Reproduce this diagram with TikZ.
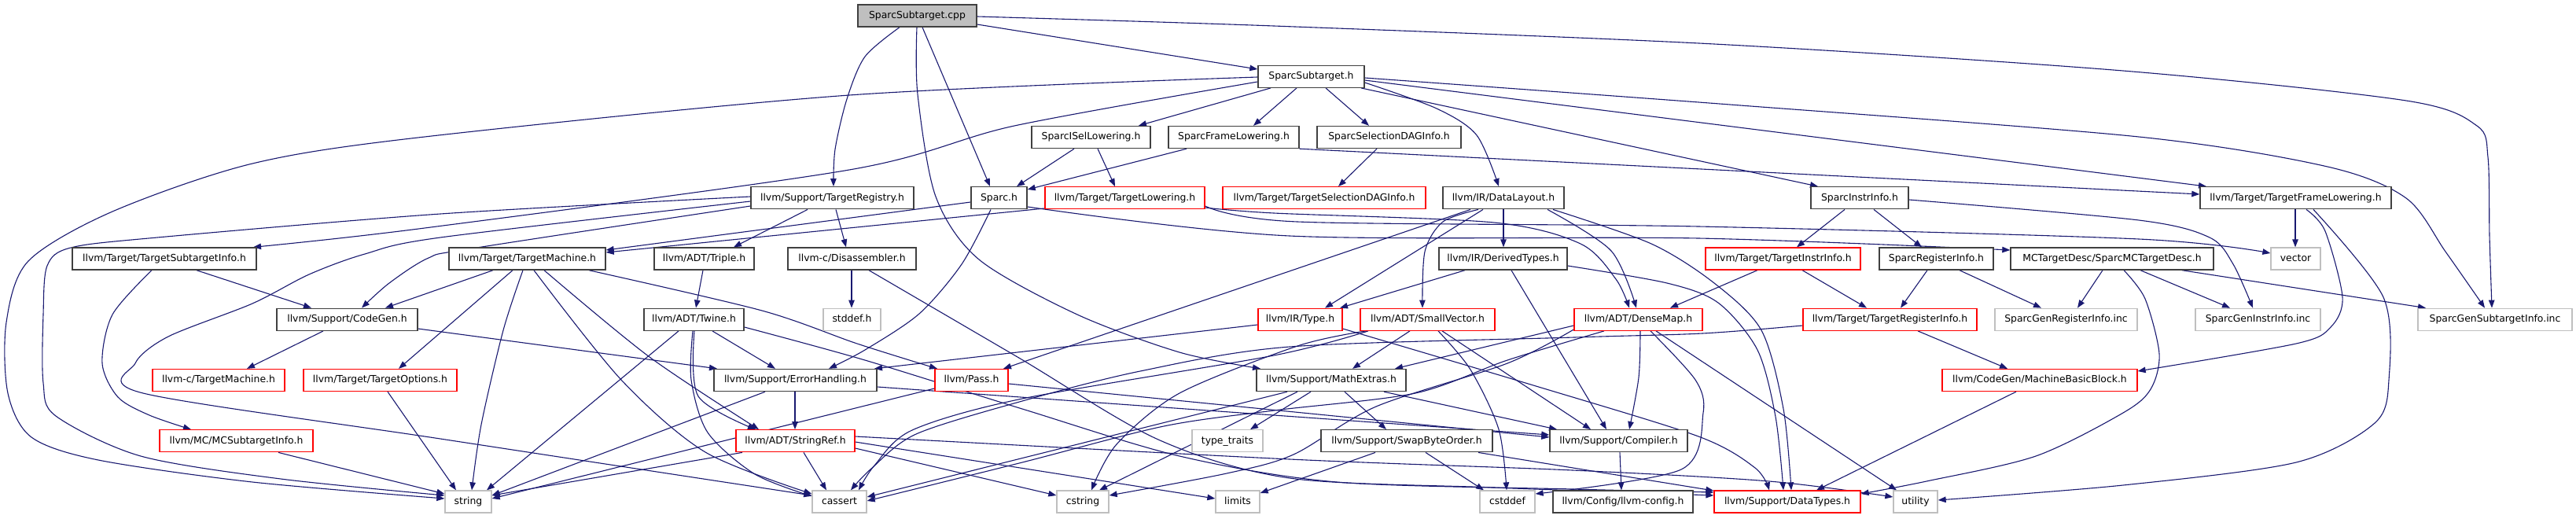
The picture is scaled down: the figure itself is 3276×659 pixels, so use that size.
\documentclass[tikz,border=0pt]{standalone}
\usepackage{fontspec}
\setmainfont{DejaVu Sans}
\usetikzlibrary{arrows.meta}
\definecolor{edgec}{HTML}{191970}
\definecolor{boxk}{HTML}{404040}
\definecolor{boxr}{HTML}{FF0000}
\definecolor{boxg}{HTML}{BFBFBF}
\pgfdeclarelayer{edges}
\pgfsetlayers{edges,main}
\tikzset{
 nb/.style={draw=boxk, line width=1.4pt, fill=white, minimum height=28pt, inner sep=0pt,
   text height=9pt, text depth=2.5pt, font=\fontsize{12.4pt}{14pt}\selectfont},
 nr/.style={nb, draw=boxr, line width=1.3pt},
 ng/.style={nb, draw=boxg, line width=1.3pt},
 ncur/.style={nb, fill=boxg},
 edg/.style={draw=edgec, line width=1.1pt, -{Triangle[length=10pt,width=7.5pt]}},
}
\begin{document}
\begin{tikzpicture}[x=1pt,y=-1pt]
\useasboundingbox (0,0) rectangle (3276,659);
% row 0
\node[ncur,minimum width=151pt] (cpp) at (1166.5,20) {SparcSubtarget.cpp};
% row 1
\node[nb,minimum width=135pt] (ssh) at (1667.5,97.25) {SparcSubtarget.h};
% row 2
\node[nb,minimum width=151pt] (isel) at (1387.5,174.5) {SparcISelLowering.h};
\node[nb,minimum width=166pt] (sfl) at (1569,174.5) {SparcFrameLowering.h};
\node[nb,minimum width=183pt] (ssdag) at (1766.5,174.5) {SparcSelectionDAGInfo.h};
% row 3
\node[nb,minimum width=207pt] (treg) at (1058.5,251.75) {llvm/Support/TargetRegistry.h};
\node[nb,minimum width=71pt] (sparch) at (1270.5,251.75) {Sparc.h};
\node[nr,minimum width=203pt] (tlow) at (1430.5,251.75) {llvm/Target/TargetLowering.h};
\node[nr,minimum width=258pt] (tsdag) at (1684,251.75) {llvm/Target/TargetSelectionDAGInfo.h};
\node[nb,minimum width=154pt] (dl) at (1912,251.75) {llvm/IR/DataLayout.h};
\node[nb,minimum width=124pt] (sii) at (2365,251.75) {SparcInstrInfo.h};
\node[nb,minimum width=243pt] (tfl) at (2919.5,251.75) {llvm/Target/TargetFrameLowering.h};
% row 4
\node[nb,minimum width=234pt] (tsi) at (209,329) {llvm/Target/TargetSubtargetInfo.h};
\node[nb,minimum width=199pt] (tm) at (670.5,329) {llvm/Target/TargetMachine.h};
\node[nb,minimum width=127pt] (triple) at (895.5,329) {llvm/ADT/Triple.h};
\node[nb,minimum width=163pt] (disasm) at (1083.5,329) {llvm-c/Disassembler.h};
\node[nb,minimum width=163pt] (dt) at (1911.5,329) {llvm/IR/DerivedTypes.h};
\node[nr,minimum width=197pt] (tii) at (2267.5,329) {llvm/Target/TargetInstrInfo.h};
\node[nb,minimum width=145pt] (sri) at (2462.5,329) {SparcRegisterInfo.h};
\node[nb,minimum width=258pt] (mctd) at (2686,329) {MCTargetDesc/SparcMCTargetDesc.h};
\node[ng,minimum width=63pt] (vector) at (2919.5,329) {vector};
% row 5
\node[nb,minimum width=179pt] (codegen) at (441.5,406.25) {llvm/Support/CodeGen.h};
\node[nb,minimum width=127pt] (twine) at (882.5,406.25) {llvm/ADT/Twine.h};
\node[ng,minimum width=73pt] (stddef) at (1083.5,406.25) {stddef.h};
\node[nr,minimum width=107pt] (type) at (1653.5,406.25) {llvm/IR/Type.h};
\node[nr,minimum width=171pt] (svec) at (1815.5,406.25) {llvm/ADT/SmallVector.h};
\node[nr,minimum width=163pt] (dmap) at (2083.5,406.25) {llvm/ADT/DenseMap.h};
\node[nr,minimum width=221pt] (tri) at (2403.5,406.25) {llvm/Target/TargetRegisterInfo.h};
\node[ng,minimum width=181pt] (sgri) at (2627.5,406.25) {SparcGenRegisterInfo.inc};
\node[ng,minimum width=159pt] (sgii) at (2871.5,406.25) {SparcGenInstrInfo.inc};
\node[ng,minimum width=196pt] (sgsub) at (3173,406.25) {SparcGenSubtargetInfo.inc};
% row 6
\node[nr,minimum width=168pt] (ctm) at (278,483.5) {llvm-c/TargetMachine.h};
\node[nr,minimum width=195pt] (topt) at (483.5,483.5) {llvm/Target/TargetOptions.h};
\node[nb,minimum width=207pt] (eh) at (1011.5,483.5) {llvm/Support/ErrorHandling.h};
\node[nr,minimum width=93pt] (pass) at (1235.5,483.5) {llvm/Pass.h};
\node[nb,minimum width=190pt] (mathx) at (1693,483.5) {llvm/Support/MathExtras.h};
\node[nr,minimum width=248pt] (mbb) at (2594,483.5) {llvm/CodeGen/MachineBasicBlock.h};
% row 7
\node[nr,minimum width=195pt] (mcsti) at (300.5,560.75) {llvm/MC/MCSubtargetInfo.h};
\node[nr,minimum width=151pt] (sref) at (1011.5,560.75) {llvm/ADT/StringRef.h};
\node[ng,minimum width=90pt] (tt) at (1561,560.75) {type\_traits};
\node[nb,minimum width=218pt] (sbo) at (1789,560.75) {llvm/Support/SwapByteOrder.h};
\node[nb,minimum width=175pt] (compiler) at (2058.5,560.75) {llvm/Support/Compiler.h};
% row 8
\node[ng,minimum width=59pt] (string) at (595.5,638) {string};
\node[ng,minimum width=69pt] (cassert) at (1067.5,638) {cassert};
\node[ng,minimum width=66pt] (cstring) at (1377,638) {cstring};
\node[ng,minimum width=56pt] (limits) at (1574,638) {limits};
\node[ng,minimum width=70pt] (cstddef) at (1917,638) {cstddef};
\node[nb,minimum width=178pt] (llvmcfg) at (2064,638) {llvm/Config/llvm-config.h};
\node[nr,minimum width=186pt] (datatypes) at (2273,638) {llvm/Support/DataTypes.h};
\node[ng,minimum width=56pt] (utility) at (2436,638) {utility};

\begin{pgfonlayer}{edges}
% from SparcSubtarget.cpp
\draw[edg] (cpp.east |- 0,31) -- (ssh.west |- 0,88);
\draw[edg] plot[smooth] coordinates {(cpp.east |- 0,21) (1620,33) (2180,56) (2700,90) (3060,128) (3150,160) (3164,200) (3166,300) (sgsub.north -| 3169,0)};
\draw[edg] plot[smooth] coordinates {(cpp.south -| 1144,0) (1100,72) (1077,126) (1062,190) (treg.north -| 1060,0)};
\draw[edg] (cpp.south -| 1173,0) -- (sparch.north -| 1259,0);
\draw[edg] plot[smooth] coordinates {(cpp.south -| 1166,0) (1167,120) (1190,250) (1245,330) (1370,400) (1500,448) (mathx.north -| 1603,0)};
% from SparcSubtarget.h
\draw[edg] (ssh.south -| 1616,0) -- (isel.north -| 1448,0);
\draw[edg] (ssh.south -| 1649,0) -- (sfl.north -| 1594,0);
\draw[edg] (ssh.south -| 1686,0) -- (ssdag.north -| 1741,0);
\draw[edg] plot[smooth] coordinates {(ssh.east |- 0,105) (1827,138) (1878,172) (dl.north -| 1906,0)};
\draw[edg] (ssh.south -| 1731,0) -- (sii.north -| 2312,0);
\draw[edg] (ssh.east |- 0,102) -- (tfl.north -| 2806,0);
\draw[edg] plot[smooth] coordinates {(ssh.east |- 0,99) (2200,133) (2720,174) (2960,212) (3060,252) (3110,320) (sgsub.north -| 3160,0)};
\draw[edg] plot[smooth] coordinates {(ssh.west |- 0,104) (1290,160) (1080,216) (540,290) (tsi.north -| 322,0)};
\draw[edg] plot[smooth] coordinates {(ssh.west |- 0,98) (1080,121) (540,174) (321,208) (143,269) (36,332) (8,410) (10,500) (40,556) (125,585) (321,613) (string.west |- 0,634)};
% from TargetRegistry.h
\draw[edg] plot[smooth] coordinates {(treg.west |- 0,250) (560,272) (200,302) (90,315) (60,338) (55,400) (55,487) (71,529) (179,580) (357,609) (string.west |- 0,630)};
\draw[edg] plot[smooth] coordinates {(treg.west |- 0,256) (560,302) (464,323) (393,349) (321,386) (214,428) (172,462) (182,500) (560,558) (cassert.west |- 0,630)};
\draw[edg] plot[smooth] coordinates {(treg.west |- 0,262) (600,316) (545,328) (495,360) (codegen.north -| 460,0)};
\draw[edg] (treg.south -| 1027,0) -- (triple.north -| 933,0);
\draw[edg] (treg.south -| 1063,0) -- (disasm.north -| 1076,0);
% from Sparc.h
\draw[edg] (sparch.west |- 0,257) -- (tm.east |- 0,318);
\draw[edg] plot[smooth] coordinates {(sparch.south -| 1260,0) (1223,336) (1169,399) (1100,445) (eh.north -| 1054,0)};
\draw[edg] plot[smooth] coordinates {(sparch.east |- 0,263) (1640,300) (2160,303) (mctd.west |- 0,318)};
% from SparcISelLowering.h / SparcFrameLowering.h / SparcSelectionDAGInfo.h
\draw[edg] (isel.south -| 1366,0) -- (sparch.north -| 1293,0);
\draw[edg] (isel.south -| 1396,0) -- (tlow.north -| 1418,0);
\draw[edg] (sfl.south -| 1509,0) -- (sparch.east |- 0,241);
\draw[edg] (sfl.south east) -- (tfl.west |- 0,247);
\draw[edg] (ssdag.south -| 1751,0) -- (tsdag.north -| 1702,0);
% from TargetLowering.h
\draw[edg] (tlow.west |- 0,265) -- (tm.east |- 0,321);
\draw[edg] plot[smooth] coordinates {(tlow.east |- 0,264) (1620,271) (1900,283) (2010,310) (2055,355) (dmap.north -| 2072,0)};
\draw[edg] plot[smooth] coordinates {(tlow.east |- 0,262) (1650,282) (2160,288) (2720,304) (vector.west |- 0,322)};
% from TargetSubtargetInfo.h
\draw[edg] (tsi.south -| 250,0) -- (codegen.north -| 396,0);
\draw[edg] plot[smooth] coordinates {(tsi.south -| 193,0) (143,400) (130,462) (150,505) (190,528) (mcsti.north -| 243,0)};
\draw[edg] (mcsti.south -| 354,0) -- (string.west |- 0,628);
% from CodeGen.h
\draw[edg] (codegen.south -| 411,0) -- (ctm.north -| 314,0);
\draw[edg] (codegen.east |- 0,418) -- (eh.north -| 912,0);
% from TargetMachine.h
\draw[edg] (tm.south -| 627,0) -- (codegen.north -| 490,0);
\draw[edg] (tm.south -| 652,0) -- (topt.north -| 507,0);
\draw[edg] plot[smooth] coordinates {(tm.south -| 665,0) (640,420) (612,540) (string.north -| 600,0)};
\draw[edg] plot[smooth] coordinates {(tm.south -| 679,0) (790,483) (897,575) (cassert.west |- 0,628)};
\draw[edg] plot[smooth] coordinates {(tm.south -| 692,0) (826,454) (sref.north -| 965,0)};
\draw[edg] plot[smooth] coordinates {(tm.south -| 749,0) (969,395) (1090,437) (pass.north -| 1192,0)};
\draw[edg] (topt.south -| 493,0) -- (string.north -| 580,0);
% Triple, Disassembler, Twine
\draw[edg] (triple.south -| 894,0) -- (twine.north -| 885,0);
\draw[edg] (disasm.south -| 1083,0) -- (stddef.north -| 1083,0);
\draw[edg] plot[smooth] coordinates {(disasm.south -| 1105,0) (1294,454) (1473,559) (1640,608) (1900,620) (datatypes.west |- 0,630)};
\draw[edg] (twine.south -| 863,0) -- (string.north -| 619,0);
\draw[edg] plot[smooth] coordinates {(twine.south -| 881,0) (879,483) (900,550) (960,603) (cassert.west |- 0,631)};
\draw[edg] plot[smooth] coordinates {(twine.south -| 883,0) (888,504) (sref.north -| 961,0)};
\draw[edg] (twine.south -| 906,0) -- (eh.north -| 986,0);
\draw[edg] plot[smooth] coordinates {(twine.east |- 0,416) (1100,458) (1300,520) (1500,580) (1700,613) (2000,622) (datatypes.west |- 0,626)};
% ErrorHandling, Pass
\draw[edg] (eh.south -| 1011,0) -- (sref.north -| 1011,0);
\draw[edg] (eh.south -| 973,0) -- (string.east |- 0,630);
\draw[edg] (eh.east |- 0,492) -- (compiler.west |- 0,553);
\draw[edg] (pass.east |- 0,488) -- (compiler.west |- 0,556);
\draw[edg] (pass.west |- 0,494) -- (string.east |- 0,634);
% DataLayout, DerivedTypes, Type
\draw[edg] (dl.south -| 1912,0) -- (dt.north -| 1912,0);
\draw[edg] plot[smooth] coordinates {(dl.south -| 1880,0) (1835,282) (1812,320) (svec.north -| 1809,0)};
\draw[edg] (dl.south -| 1886,0) -- (type.north -| 1685,0);
\draw[edg] (dl.south -| 1870,0) -- (pass.north -| 1276,0);
\draw[edg] plot[smooth] coordinates {(dl.south -| 1968,0) (2049,319) (dmap.north -| 2081,0)};
\draw[edg] plot[smooth] coordinates {(dl.south -| 1975,0) (2100,310) (2180,360) (2240,420) (2268,520) (datatypes.north -| 2278,0)};
\draw[edg] (dt.south -| 1863,0) -- (type.north -| 1704,0);
\draw[edg] (dt.south -| 1922,0) -- (compiler.north -| 2043,0);
\draw[edg] plot[smooth] coordinates {(dt.east |- 0,338) (2120,360) (2185,385) (2235,445) (2258,530) (datatypes.north -| 2268,0)};
\draw[edg] (type.west |- 0,413) -- (eh.north -| 1112,0);
\draw[edg] plot[smooth] coordinates {(type.east |- 0,418) (1950,490) (2160,555) (2232,595) (datatypes.north -| 2250,0)};
% MathExtras
\draw[edg] (mathx.south -| 1667,0) -- (tt.north -| 1590,0);
\draw[edg] (mathx.south -| 1710,0) -- (sbo.north -| 1763,0);
\draw[edg] (mathx.south -| 1760,0) -- (compiler.north -| 1980,0);
\draw[edg] (mathx.south -| 1637,0) -- (cassert.east |- 0,632);
\draw[edg] (mathx.south -| 1650,0) -- (cstring.north -| 1398,0);
% SmallVector
\draw[edg] (svec.south -| 1793,0) -- (mathx.north -| 1720,0);
\draw[edg] (svec.south -| 1834,0) -- (compiler.north -| 2023,0);
\draw[edg] plot[smooth] coordinates {(svec.south -| 1829,0) (1870,470) (1906,546) (cstddef.north -| 1916,0)};
\draw[edg] plot[smooth] coordinates {(svec.south -| 1740,0) (1620,452) (1300,507) (1160,547) (1112,592) (cassert.north -| 1092,0)};
\draw[edg] plot[smooth] coordinates {(svec.south -| 1737,0) (1650,440) (1500,500) (1420,565) (cstring.north -| 1388,0)};
% DenseMap
\draw[edg] plot[smooth] coordinates {(dmap.south -| 2086,0) (2084,480) (compiler.north -| 2072,0)};
\draw[edg] (dmap.west |- 0,414) -- (mathx.north -| 1774,0);
\draw[edg] plot[smooth] coordinates {(dmap.south -| 2099,0) (2156,483) (2166,525) (2138,597) (cstddef.east |- 0,628)};
\draw[edg] (dmap.south -| 2106,0) -- (utility.north -| 2412,0);
\draw[edg] plot[smooth] coordinates {(dmap.south -| 2040,0) (1917,458) (1800,500) (1620,522) (1480,542) (1300,588) (cassert.east |- 0,637)};
\draw[edg] plot[smooth] coordinates {(dmap.west |- 0,419) (1917,462) (1750,517) (1645,578) (1560,602) (cstring.east |- 0,630)};
% TargetRegisterInfo
\draw[edg] (tri.south -| 2439,0) -- (mbb.north -| 2553,0);
\draw[edg] plot[smooth] coordinates {(tri.west |- 0,414) (2165,424) (2002,429) (1640,441) (1450,472) (1300,510) (1165,552) (1108,596) (cassert.north -| 1082,0)};
% SparcInstrInfo, TargetInstrInfo, SparcRegisterInfo
\draw[edg] (sii.south -| 2346,0) -- (tii.north -| 2285,0);
\draw[edg] (sii.south -| 2383,0) -- (sri.north -| 2444,0);
\draw[edg] plot[smooth] coordinates {(sii.east |- 0,254) (2720,280) (2810,302) (2840,336) (sgii.north -| 2865,0)};
\draw[edg] (tii.south -| 2292,0) -- (tri.north -| 2374,0);
\draw[edg] (tii.south -| 2235,0) -- (dmap.north -| 2124,0);
\draw[edg] (sri.south -| 2451,0) -- (tri.north -| 2417,0);
\draw[edg] (sri.south -| 2492,0) -- (sgri.north -| 2596,0);
% SparcMCTargetDesc
\draw[edg] (mctd.south -| 2674,0) -- (sgri.north -| 2642,0);
\draw[edg] (mctd.south -| 2722,0) -- (sgii.north -| 2836,0);
\draw[edg] (mctd.south -| 2775,0) -- (sgsub.north -| 3085,0);
\draw[edg] plot[smooth] coordinates {(mctd.south -| 2701,0) (2728,380) (2746,450) (2735,495) (2700,525) (2589,580) (2450,612) (datatypes.east |- 0,628)};
% TargetFrameLowering
\draw[edg] (tfl.south -| 2919,0) -- (vector.north -| 2919,0);
\draw[edg] plot[smooth] coordinates {(tfl.south -| 2933,0) (2957,294) (2979,378) (2964,416) (2920,437) (mbb.east |- 0,472)};
\draw[edg] plot[smooth] coordinates {(tfl.south -| 2942,0) (3031,378) (3038,483) (3020,538) (2920,588) (2700,617) (utility.east |- 0,636)};
\draw[edg] (mbb.south -| 2564,0) -- (datatypes.north -| 2310,0);
% SwapByteOrder, Compiler
\draw[edg] (sbo.south -| 1813,0) -- (cstddef.north -| 1887,0);
\draw[edg] (sbo.south -| 1749,0) -- (limits.east |- 0,627);
\draw[edg] (sbo.south -| 1880,0) -- (datatypes.west |- 0,624);
\draw[edg] (compiler.south -| 2060,0) -- (llvmcfg.north -| 2062,0);
% StringRef
\draw[edg] (sref.south -| 944,0) -- (string.east |- 0,630);
\draw[edg] (sref.south -| 1022,0) -- (cassert.north -| 1051,0);
\draw[edg] (sref.east |- 0,570) -- (cstring.west |- 0,630);
\draw[edg] (sref.east |- 0,562) -- (limits.west |- 0,634);
\draw[edg] plot[smooth] coordinates {(sref.east |- 0,555) (1640,584) (2000,598) (2250,612) (utility.west |- 0,632)};
\end{pgfonlayer}
\end{tikzpicture}
\end{document}
